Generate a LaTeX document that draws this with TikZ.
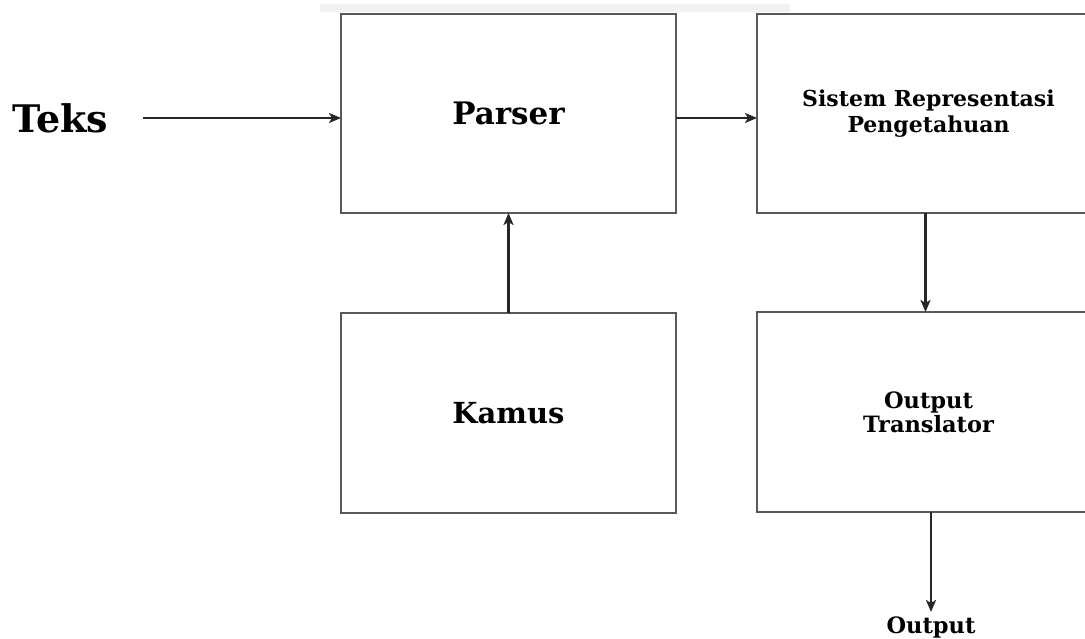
\documentclass[tikz,border=0pt]{standalone}
\usepackage{fontspec}
\setmainfont{DejaVu Serif}
\usetikzlibrary{arrows.meta}
\begin{document}
\begin{tikzpicture}[x=1pt,y=-1pt,
  block/.style={draw=black!65, line width=1.6pt, rectangle, outer sep=0pt,
    align=center, font=\bfseries},
  arr/.style={draw=black!85, line width=2.4pt,
    -{Stealth[length=12pt,width=10pt,inset=3pt]}},
  lbl/.style={font=\bfseries, inner sep=0pt}]
\useasboundingbox (0,0) rectangle (1085,639);
\clip (0,0) rectangle (1085,639);

% faint band along the top edge
\fill[black!5] (320,4) rectangle (790,12);

% blocks
\node[block, minimum width=335pt, minimum height=199pt,
  font=\bfseries\fontsize{31}{34}\selectfont] (parser) at (508.5,113.5) {Parser};
\node[block, minimum width=343pt, minimum height=199pt,
  font=\bfseries\fontsize{22}{26}\selectfont] (sistem) at (928.5,113.5)
  {Sistem Representasi\\Pengetahuan};
\node[block, minimum width=335pt, minimum height=200pt,
  font=\bfseries\fontsize{29}{32}\selectfont] (kamus) at (508.5,413) {Kamus};
\node[block, minimum width=343pt, minimum height=200pt,
  font=\bfseries\fontsize{22.5}{24}\selectfont] (trans) at (928.5,412)
  {Output\\Translator};

% free labels
\node[lbl, font=\bfseries\fontsize{38}{40}\selectfont] (teks) at (60,118) {Teks};
\node[lbl, font=\bfseries\fontsize{22.5}{24}\selectfont, anchor=north] (out) at (931,617) {Output};

% connectors
\draw[arr] ([xshift=35pt]teks.east) -- (teks.east -| parser.west);
\draw[arr] ([yshift=-4.5pt]parser.east) -- ([yshift=-4.5pt]parser.east -| sistem.west);
\draw[arr] (kamus.north) -- (parser.south);
\draw[arr] ([xshift=-3pt]sistem.south) -- ([xshift=-3pt]trans.north);
\draw[arr, shorten >=5pt] (trans.south -| out.north) -- (out.north);
\end{tikzpicture}
\end{document}
